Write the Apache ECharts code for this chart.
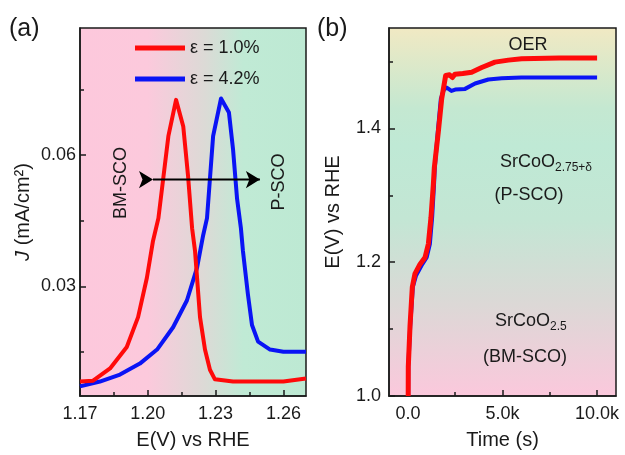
<!DOCTYPE html>
<html>
<head>
<meta charset="utf-8">
<script src="https://cdn.jsdelivr.net/npm/echarts@6/dist/echarts.min.js"></script>
<style>html,body{margin:0;padding:0;background:#fff;}#c{width:625px;height:455px;}</style>
</head>
<body>
<div id="c"></div>
<script>
// ---- Panel (a): LSV peaks ----
var seriesNames = ['ε = 1.0%', 'ε = 4.2%'];
var redE = [1.1700, 1.1758, 1.1833, 1.1907, 1.1957, 1.1996, 1.2023, 1.2047, 1.2091, 1.2125, 1.2157, 1.2178, 1.2196, 1.2209, 1.2231, 1.2253, 1.2275, 1.2297, 1.2377, 1.2600, 1.2700];
var redJ = [0.0083, 0.0085, 0.0113, 0.0162, 0.0230, 0.0320, 0.0404, 0.0456, 0.0643, 0.0726, 0.0665, 0.0553, 0.0433, 0.0381, 0.0230, 0.0156, 0.0110, 0.0088, 0.0083, 0.0083, 0.0090];
var blueE = [1.1700, 1.1788, 1.1877, 1.1965, 1.2041, 1.2112, 1.2173, 1.2218, 1.2245, 1.2262, 1.2289, 1.2324, 1.2359, 1.2377, 1.2395, 1.2412, 1.2421, 1.2443, 1.2461, 1.2488, 1.2541, 1.2600, 1.2700];
var blueJ = [0.0072, 0.0083, 0.0099, 0.0124, 0.0156, 0.0207, 0.0268, 0.0343, 0.0417, 0.0456, 0.0643, 0.0729, 0.0697, 0.0614, 0.0500, 0.0433, 0.0381, 0.0282, 0.0212, 0.0174, 0.0156, 0.0151, 0.0151];
var arrowE = [1.2023, 1.2496];
var arrowJ = [0.0544, 0.0544];
var aXTicks = [1.17, 1.20, 1.23, 1.26];
var aXMinor = [1.185, 1.215, 1.245];
var aYTicks = [0.03, 0.06];
var aYMinor = [0.015, 0.045, 0.075];

// ---- Panel (b): chronopotentiometry ----
var redT = [15, 20, 110, 233, 375, 640, 903, 1080, 1220, 1343, 1395, 1608, 1785, 1996, 2200, 2350, 2490, 2900, 3370, 3900, 4600, 5310, 6010, 8000, 10000];
var redV = [1.000, 1.044, 1.104, 1.163, 1.183, 1.197, 1.207, 1.227, 1.267, 1.316, 1.341, 1.395, 1.444, 1.479, 1.480, 1.476, 1.481, 1.482, 1.484, 1.491, 1.499, 1.502, 1.504, 1.505, 1.505];
var blueT = [15, 20, 120, 260, 430, 720, 990, 1160, 1280, 1380, 1420, 1580, 1740, 1900, 2050, 2300, 2500, 3020, 3550, 4250, 4960, 6000, 10000];
var blueV = [1.000, 1.044, 1.104, 1.163, 1.180, 1.195, 1.207, 1.227, 1.267, 1.316, 1.341, 1.395, 1.444, 1.458, 1.461, 1.456, 1.458, 1.459, 1.467, 1.473, 1.475, 1.476, 1.476];
var bXTicks = [0, 5000, 10000];
var bXMinor = [2500, 7500];
var bYTicks = [1.0, 1.2, 1.4];
var bYMinor = [1.1, 1.3, 1.5];

function zip(a, b) { return a.map(function (v, i) { return [v, b[i]]; }); }

var FONT = "'Liberation Sans', Arial, sans-serif";
var INK = '#1a1a1a';
var RED = '#ff0a0a';
var BLUE = '#0a14f5';

function tick(len, vals) {
  return { show: true, inside: true, length: len, customValues: vals, lineStyle: { color: INK, width: 1.5 } };
}
function majorAxis(extra) {
  var o = {
    type: 'value',
    axisLine: { show: true, onZero: false, lineStyle: { color: INK, width: 1.5 } },
    splitLine: { show: false },
    nameLocation: 'middle',
    nameTextStyle: { color: INK, fontSize: 20, fontFamily: FONT }
  };
  for (var k in extra) o[k] = extra[k];
  return o;
}
function minorAxis(extra) {
  var o = {
    type: 'value',
    axisLine: { show: false, onZero: false },
    axisLabel: { show: false },
    splitLine: { show: false }
  };
  for (var k in extra) o[k] = extra[k];
  return o;
}
function label(margin, vals, fmt) {
  return { color: INK, fontSize: 18, fontFamily: FONT, margin: margin, customValues: vals, formatter: fmt };
}

var chart = echarts.init(document.getElementById('c'), null, { renderer: 'canvas' });

var option = {
  animation: false,
  backgroundColor: '#ffffff',
  textStyle: { fontFamily: FONT },
  grid: [
    {
      left: 80, right: 319, top: 28, bottom: 55, show: true,
      borderColor: INK, borderWidth: 1.5,
      backgroundColor: { type: 'linear', x: 0, y: 0, x2: 1, y2: 0, colorStops: [
        { offset: 0, color: '#fdc8dc' }, { offset: 0.30, color: '#fcc9dc' },
        { offset: 0.55, color: '#dcdad6' }, { offset: 0.72, color: '#c0ead5' },
        { offset: 1, color: '#bde9d3' } ] }
    },
    {
      left: 389, right: 9, top: 28, bottom: 55, show: true,
      borderColor: INK, borderWidth: 1.5,
      backgroundColor: { type: 'linear', x: 0, y: 0, x2: 0, y2: 1, colorStops: [
        { offset: 0, color: '#f1e9c3' }, { offset: 0.22, color: '#c4e8d1' },
        { offset: 0.32, color: '#bfe9d5' }, { offset: 0.52, color: '#c3e6d4' },
        { offset: 0.75, color: '#dcd8d6' }, { offset: 1, color: '#fbc8dc' } ] }
    }
  ],
  xAxis: [
    majorAxis({ gridIndex: 0, min: 1.17, max: 1.27, name: 'E(V) vs RHE', nameGap: 34,
      axisTick: tick(6, aXTicks),
      axisLabel: label(9, aXTicks, function (v) { return v.toFixed(2); }) }),
    minorAxis({ gridIndex: 0, min: 1.17, max: 1.27, position: 'bottom', axisTick: tick(4, aXMinor) }),
    majorAxis({ gridIndex: 1, min: -1000, max: 11000, name: 'Time (s)', nameGap: 34,
      axisTick: tick(6, bXTicks),
      axisLabel: label(9, bXTicks, function (v) { return v === 0 ? '0.0' : (v / 1000).toFixed(1) + 'k'; }) }),
    minorAxis({ gridIndex: 1, min: -1000, max: 11000, position: 'bottom', axisTick: tick(4, bXMinor) })
  ],
  yAxis: [
    majorAxis({ gridIndex: 0, min: 0.005, max: 0.089, name: '{i|J} (mA/cm²)', nameGap: 47,
      nameTextStyle: { color: INK, fontSize: 20, fontFamily: FONT, rich: { i: { fontStyle: 'italic', fontSize: 20, fontFamily: FONT, color: INK } } },
      axisTick: tick(6, aYTicks),
      axisLabel: label(4, aYTicks, function (v) { return v.toFixed(2); }) }),
    minorAxis({ gridIndex: 0, min: 0.005, max: 0.089, position: 'left', axisTick: tick(4, aYMinor) }),
    majorAxis({ gridIndex: 1, min: 1.0, max: 1.55, name: 'E(V) vs RHE', nameGap: 46,
      axisTick: tick(6, bYTicks),
      axisLabel: label(8, bYTicks, function (v) { return v.toFixed(1); }) }),
    minorAxis({ gridIndex: 1, min: 1.0, max: 1.55, position: 'left', axisTick: tick(4, bYMinor) })
  ],
  legend: {
    data: seriesNames,
    orient: 'vertical',
    left: 135, top: 38, padding: 0,
    icon: 'rect', itemWidth: 50, itemHeight: 5, itemGap: 11,
    textStyle: { color: INK, fontSize: 18, fontFamily: FONT, lineHeight: 20 },
    selectedMode: false
  },
  series: [
    { name: seriesNames[1], type: 'line', xAxisIndex: 0, yAxisIndex: 0, data: zip(blueE, blueJ),
      showSymbol: false, color: BLUE, lineStyle: { width: 4, color: BLUE, join: 'round' } },
    { name: seriesNames[0], type: 'line', xAxisIndex: 0, yAxisIndex: 0, data: zip(redE, redJ),
      showSymbol: false, color: RED, lineStyle: { width: 4, color: RED, join: 'round' } },
    { name: 'arrow', type: 'line', xAxisIndex: 0, yAxisIndex: 0, data: zip(arrowE, arrowJ),
      symbol: 'arrow', symbolSize: [13, 14], symbolRotate: -90, showSymbol: true,
      itemStyle: { color: '#000' }, lineStyle: { width: 2, color: '#000' }, z: 5, silent: true },
    { name: seriesNames[1], type: 'line', xAxisIndex: 2, yAxisIndex: 2, data: zip(blueT, blueV),
      showSymbol: false, color: BLUE, lineStyle: { width: 4, color: BLUE, join: 'round' } },
    { name: seriesNames[0], type: 'line', xAxisIndex: 2, yAxisIndex: 2, data: zip(redT, redV),
      showSymbol: false, color: RED, lineStyle: { width: 5, color: RED, join: 'round' } }
  ],
  graphic: [
    { type: 'text', left: 9, top: 17, style: { text: '(a)', fontSize: 25, fontFamily: FONT, fill: INK } },
    { type: 'text', left: 317, top: 17, style: { text: '(b)', fontSize: 25, fontFamily: FONT, fill: INK } },
    { type: 'text', x: 121, y: 183, rotation: Math.PI / 2,
      style: { text: 'BM-SCO', fontSize: 18, fontFamily: FONT, fill: INK, align: 'center', verticalAlign: 'middle' } },
    { type: 'text', x: 279, y: 182, rotation: Math.PI / 2,
      style: { text: 'P-SCO', fontSize: 18, fontFamily: FONT, fill: INK, align: 'center', verticalAlign: 'middle' } },
    { type: 'text', x: 528, y: 45,
      style: { text: 'OER', fontSize: 18, fontFamily: FONT, fill: INK, align: 'center', verticalAlign: 'middle' } },
    { type: 'text', x: 500, y: 162,
      style: { text: '{m|SrCoO}{s|2.75+δ}', align: 'left', verticalAlign: 'middle', fill: INK,
        rich: { m: { fontSize: 18, fontFamily: FONT, fill: INK, lineHeight: 22 },
                s: { fontSize: 12, fontFamily: FONT, fill: INK, lineHeight: 22, padding: [12, 0, 0, 0] } } } },
    { type: 'text', x: 529, y: 195,
      style: { text: '(P-SCO)', fontSize: 18, fontFamily: FONT, fill: INK, align: 'center', verticalAlign: 'middle' } },
    { type: 'text', x: 495, y: 321,
      style: { text: '{m|SrCoO}{s|2.5}', align: 'left', verticalAlign: 'middle', fill: INK,
        rich: { m: { fontSize: 18, fontFamily: FONT, fill: INK, lineHeight: 22 },
                s: { fontSize: 12, fontFamily: FONT, fill: INK, lineHeight: 22, padding: [12, 0, 0, 0] } } } },
    { type: 'text', x: 525, y: 357,
      style: { text: '(BM-SCO)', fontSize: 18, fontFamily: FONT, fill: INK, align: 'center', verticalAlign: 'middle' } }
  ]
};
chart.setOption(option);
</script>
</body>
</html>
